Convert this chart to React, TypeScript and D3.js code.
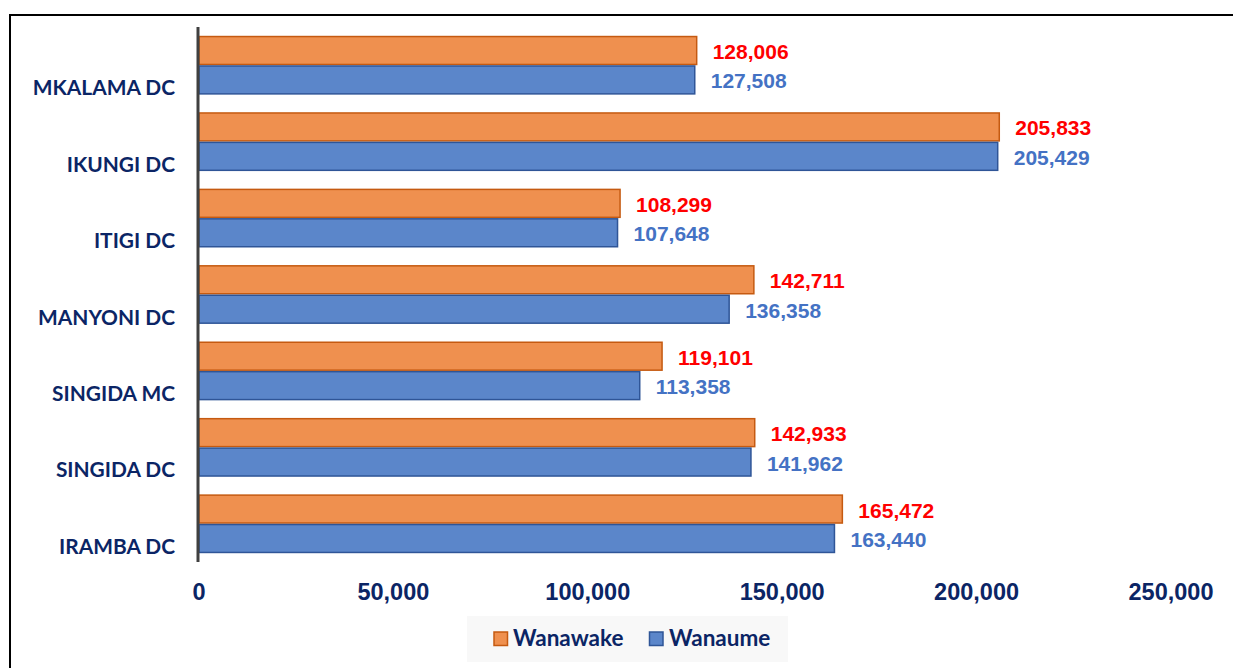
import React from "react";
import * as d3 from "d3";

const categories = ["MKALAMA DC", "IKUNGI DC", "ITIGI DC", "MANYONI DC", "SINGIDA MC", "SINGIDA DC", "IRAMBA DC"];
const wanawake = [128006, 205833, 108299, 142711, 119101, 142933, 165472];
const wanaume = [127508, 205429, 107648, 136358, 113358, 141962, 163440];
const xTicks = [0, 50000, 100000, 150000, 200000, 250000];
const seriesNames = ["Wanawake", "Wanaume"];

const W = 1233;
const H = 668;
const NAVY = "#0B2565";
const ORANGE_FILL = "#EF904F";
const ORANGE_STROKE = "#C55A11";
const BLUE_FILL = "#5B86CA";
const BLUE_STROKE = "#2F5597";

export default function App() {
  const x = d3.scaleLinear().domain([0, 250000]).range([199, 1171]);
  const y = d3.scaleBand<string>().domain(categories).range([27, 562]).paddingInner(0.23).paddingOuter(0.115);
  const sub = d3.scaleBand<string>().domain(seriesNames).range([0, y.bandwidth()]);
  const fmt = d3.format(",");
  const series = [
    { name: seriesNames[0], values: wanawake, fill: ORANGE_FILL, stroke: ORANGE_STROKE, label: "#FF0000" },
    { name: seriesNames[1], values: wanaume, fill: BLUE_FILL, stroke: BLUE_STROKE, label: "#4472C4" },
  ];

  return (
    <div style={{ position: "fixed", left: 0, top: 0 }}>
      <svg width={W} height={H} style={{ display: "block", background: "#fff" }}>
        <path d={`M10,${H + 5} L10,15 L${W + 5},15`} fill="none" stroke="#000" strokeWidth={2} />
        {series.map((s) =>
          categories.map((c, i) => {
            const y0 = (y(c) as number) + (sub(s.name) as number);
            const bh = sub.bandwidth();
            return (
              <g key={s.name + c}>
                <rect x={x(0)} y={y0 + 0.75} width={x(s.values[i]) - x(0)} height={bh - 1.5} fill={s.fill} stroke={s.stroke} strokeWidth={1.5} />
                <text x={x(s.values[i]) + 16} y={y0 + bh / 2 + 1} dominantBaseline="central" fontFamily="'Liberation Sans', Arial, sans-serif" fontWeight="bold" fontSize={21} fill={s.label}>
                  {fmt(s.values[i])}
                </text>
              </g>
            );
          })
        )}
        <line x1={x(0) - 1} x2={x(0) - 1} y1={27} y2={562} stroke="#404040" strokeWidth={3} />
        {categories.map((c) => (
          <text key={c} x={175} y={(y(c) as number) + y.bandwidth() / 2 + 30} textAnchor="end" fontFamily="Lato, sans-serif" fontWeight="bold" fontSize={20.9} fill={NAVY}>
            {c}
          </text>
        ))}
        {xTicks.map((t) => (
          <text key={t} x={x(t)} y={600} textAnchor="middle" fontFamily="'Liberation Sans', Arial, sans-serif" fontWeight="bold" fontSize={23.5} fill={NAVY}>
            {fmt(t)}
          </text>
        ))}
        <rect x={467} y={616} width={321} height={46} fill="#F8F8F8" />
        <rect x={494} y={632} width={13.5} height={13.5} fill={ORANGE_FILL} stroke={ORANGE_STROKE} strokeWidth={1.5} />
        <text x={513} y={646} fontFamily="Lato, sans-serif" fontWeight="bold" fontSize={22.5} fill={NAVY}>{seriesNames[0]}</text>
        <rect x={649.5} y={632} width={13.5} height={13.5} fill={BLUE_FILL} stroke={BLUE_STROKE} strokeWidth={1.5} />
        <text x={669} y={646} fontFamily="Lato, sans-serif" fontWeight="bold" fontSize={22.5} fill={NAVY}>{seriesNames[1]}</text>
      </svg>
    </div>
  );
}
